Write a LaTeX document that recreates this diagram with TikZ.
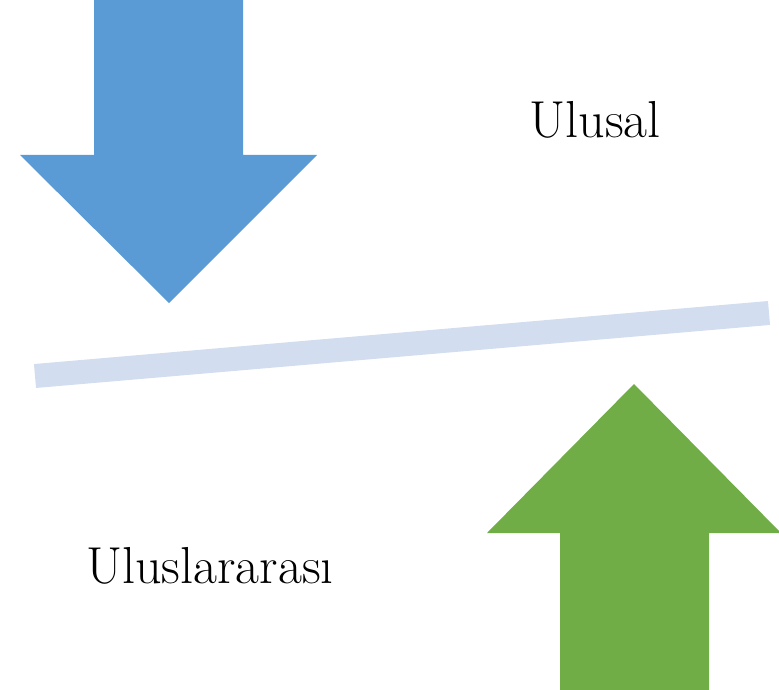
\documentclass[tikz,border=0pt]{standalone}
\usepackage{xcolor}
\usepackage{tikz}
\definecolor{bluearrow}{HTML}{5B9BD5}
\definecolor{greenarrow}{HTML}{70AD47}
\definecolor{balance}{HTML}{D2DDEF}
\tikzset{
  downarrow/.style={fill=bluearrow, draw=none},
  uparrow/.style={fill=greenarrow, draw=none},
  beam/.style={draw=balance, line width=24pt, line cap=butt},
  lab/.style={text=black, font=\fontsize{52}{62}\selectfont, inner sep=0pt}
}
\begin{document}
\begin{tikzpicture}[x=1pt,y=-1pt]
  \useasboundingbox (0,0) rectangle (779,690);
  % down arrow
  \fill[downarrow] (94,0) -- (243,0) -- (243,155) -- (317,155) -- (169,303)
    -- (20,155) -- (94,155) -- cycle;
  % tilted beam
  \coordinate (L) at (35,376);
  \coordinate (R) at (769,313);
  \draw[beam] (L) -- (R);
  % up arrow
  \fill[uparrow] (634,384) -- (781,533) -- (709,533) -- (709,690) -- (560,690)
    -- (560,533) -- (487,533) -- cycle;
  % labels
  \node[lab] (ulusal) at (595,120) {Ulusal};
  \node[lab] (uluslar) at (210,566) {Uluslararası};
\end{tikzpicture}
\end{document}
